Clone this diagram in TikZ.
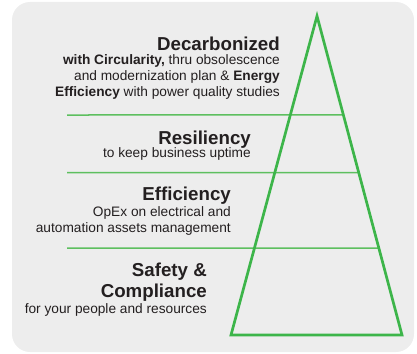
\documentclass[tikz,border=0pt]{standalone}
\usepackage{fontspec}
\setmainfont{Liberation Sans}
\usetikzlibrary{calc}
\definecolor{bg}{HTML}{EDEDED}
\definecolor{grn}{HTML}{3DB54A}
\definecolor{grnl}{HTML}{5DBF5F}
\definecolor{txt}{HTML}{231F20}
\begin{document}
\begin{tikzpicture}[x=1pt,y=-1pt,
 ttl/.style={anchor=base east, inner sep=0, font=\fontsize{18.7}{20}\selectfont\bfseries, text=txt},
 body/.style={anchor=base east, inner sep=0, font=\fontsize{13.7}{15.7}\selectfont, text=txt},
 level/.style={draw=grnl, line width=1.5pt},
 tri/.style={draw=grn, line width=2.7pt, line join=miter}]
\useasboundingbox (0,0) rectangle (417,353);
\fill[bg, rounded corners=18pt] (12,2) rectangle (414,352);
% pyramid corners
\coordinate (apex) at (317,16);
\coordinate (bl) at (231,335);
\coordinate (br) at (402,335);
% level lines
\coordinate (l1s) at (67,115);
\coordinate (l1e) at ($(apex)!0.3103!(br)$);
\coordinate (l2s) at (67,172.5);
\coordinate (l2e) at ($(apex)!0.4906!(br)$);
\coordinate (l3s) at (67,248);
\coordinate (l3e) at ($(apex)!0.7273!(br)$);
\draw[level] (l1s) -- (l1e);
\draw[level] (l2s) -- (l2e);
\draw[level] (l3s) -- (l3e);
\draw[tri] (apex) -- (br) -- (bl) -- cycle;
% texts
\node[ttl] (t1) at (280,50) {Decarbonized};
\node[body] (t1a) at (280,64.5) {\textbf{with Circularity,} thru obsolescence};
\node[body] (t1b) at (280,80.5) {and modernization plan \& \textbf{Energy}};
\node[body] (t1c) at (280,96.5) {\textbf{Efficiency} with power quality studies};
\node[ttl] (t2) at (251,144) {Resiliency};
\node[body] (t2a) at (251,157) {to keep business uptime};
\node[ttl] (t3) at (231,200.7) {Efficiency};
\node[body] (t3a) at (231,216.5) {OpEx on electrical and};
\node[body] (t3b) at (231,232) {automation assets management};
\node[ttl] (t4) at (207,276.7) {Safety \&};
\node[ttl] (t4a) at (207,297.3) {Compliance};
\node[body] (t4b) at (207,313) {for your people and resources};
\end{tikzpicture}
\end{document}
